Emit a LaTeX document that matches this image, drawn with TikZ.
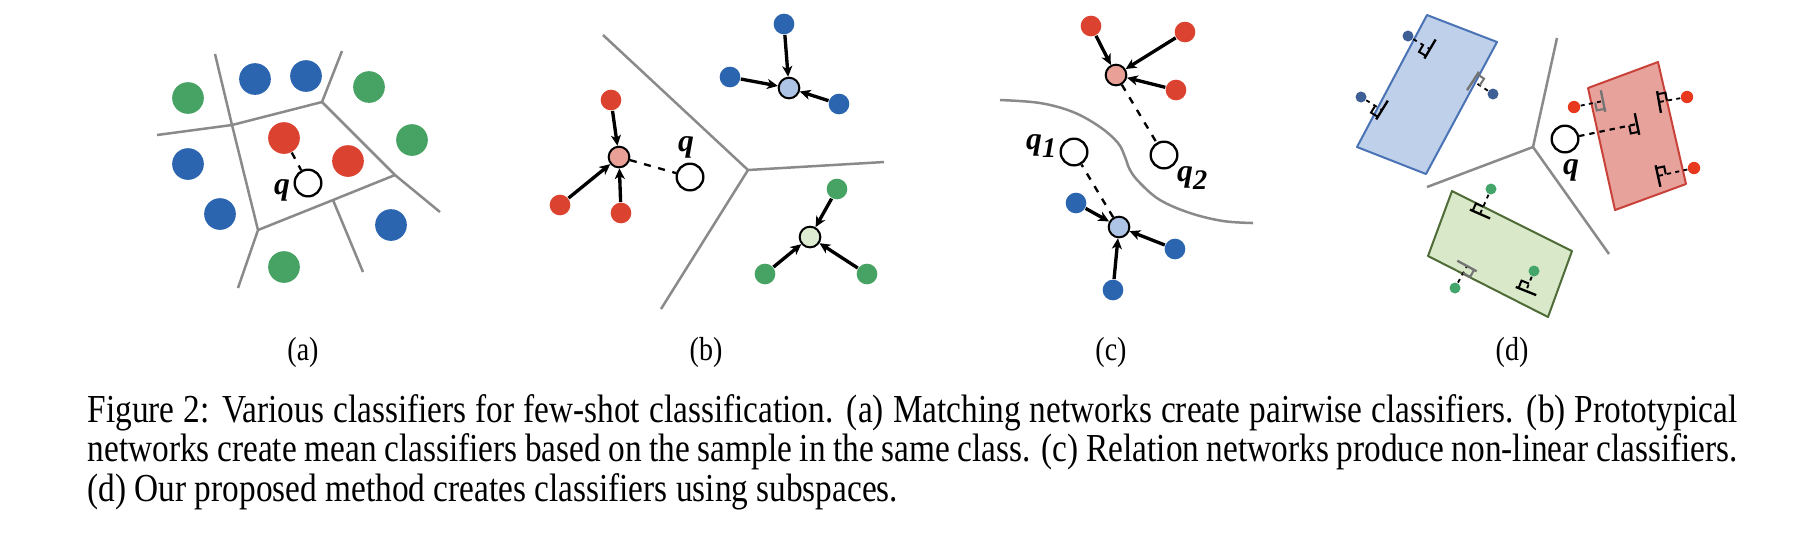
\documentclass[tikz,border=0pt]{standalone}
\usepackage{fontspec}
\setmainfont{Liberation Serif}
\newfontfamily\capfont[FakeStretch=0.84]{Liberation Serif}
\usetikzlibrary{arrows.meta,calc}

\definecolor{cred}{RGB}{220,66,48}
\definecolor{cblue}{RGB}{43,100,175}
\definecolor{cgreen}{RGB}{70,163,100}
\definecolor{mred}{RGB}{233,160,151}
\definecolor{mblue}{RGB}{174,196,230}
\definecolor{mgreen}{RGB}{222,237,210}
\definecolor{cgray}{RGB}{138,138,138}
\definecolor{rbfill}{RGB}{191,208,234}
\definecolor{rbdraw}{RGB}{74,115,181}
\definecolor{rrfill}{RGB}{232,162,156}
\definecolor{rrdraw}{RGB}{201,66,58}
\definecolor{rgfill}{RGB}{216,232,200}
\definecolor{rgdraw}{RGB}{78,107,56}
\definecolor{dblue}{RGB}{62,94,150}
\definecolor{dred}{RGB}{232,56,30}
\definecolor{dgreen}{RGB}{67,165,106}
\definecolor{mkgray}{RGB}{115,115,115}

\newcommand\perpmark[3]{%
  \coordinate (pmA) at ($(#1)!2.4pt!(#2)$);
  \coordinate (pmB) at ($(#1)!2.4pt!90:(#2)$);
  \draw[#3,line width=0.7pt] ($(#1)!3.3pt!90:(#2)$) -- ($(#1)!3.3pt!-90:(#2)$);
  \draw[#3,line width=0.6pt] (pmA) -- ($(pmA)!2.4pt!90:(#2)$) -- (pmB);
}

\begin{document}
\begin{tikzpicture}[x=0.3pt,y=-0.3pt,
  bigdot/.style={circle,inner sep=0pt,minimum size=9.5pt},
  smalldot/.style={circle,inner sep=0pt,minimum size=6.2pt},
  tinydot/.style={circle,inner sep=0pt,minimum size=3.3pt},
  meandot/.style={circle,draw=black,line width=0.6pt,inner sep=0pt,minimum size=6.2pt},
  qdot/.style={circle,draw=black,line width=0.7pt,fill=white,inner sep=0pt,minimum size=8pt},
  qlabel/.style={font=\fontsize{9.5}{11}\selectfont\bfseries\itshape,inner sep=0pt},
  border/.style={cgray,line width=0.75pt,line join=round},
  arr/.style={line width=1pt,-{Stealth[length=3.2pt,width=3pt,inset=0.9pt]}},
  qdash/.style={line width=0.7pt,dash pattern=on 2.1pt off 2.3pt},
  pdash/.style={line width=0.55pt,dash pattern=on 1.2pt off 1.3pt},
  sublabel/.style={font=\capfont\fontsize{10}{12}\selectfont,inner sep=0pt},
  capline/.style={font=\capfont\fontsize{11.9}{14}\selectfont,inner sep=0pt,anchor=base west},
]
\fill[white] (0,0) rectangle (1809,550);
\useasboundingbox (0,0) rectangle (1809,550);

% ---------------- (a) ----------------
\coordinate (aA) at (215,54);
\coordinate (aB) at (232,125);
\coordinate (aC) at (157,135);
\coordinate (aD) at (322,102);
\coordinate (aE) at (342,51);
\coordinate (aF) at (258,230);
\coordinate (aG) at (238,288);
\coordinate (aH) at (395,175);
\coordinate (aI) at (440,212);
\coordinate (aJ) at (333,200);
\coordinate (aK) at (363,272);
\draw[border] (aA) -- (aB) -- (aF) -- (aG);
\draw[border] (aC) -- (aB) -- (aD) -- (aE);
\draw[border] (aD) -- (aH) -- (aI);
\draw[border] (aF) -- (aJ) -- (aH);
\draw[border] (aJ) -- (aK);

\node[bigdot,fill=cgreen] (ag1) at (188,98) {};
\node[bigdot,fill=cblue] (ab1) at (255,79) {};
\node[bigdot,fill=cblue] (ab2) at (306,76) {};
\node[bigdot,fill=cgreen] (ag2) at (369,87) {};
\node[bigdot,fill=cgreen] (ag3) at (412,140) {};
\node[bigdot,fill=cblue] (ab3) at (188,164) {};
\node[bigdot,fill=cred] (ar1) at (284,138) {};
\node[bigdot,fill=cred] (ar2) at (348,161) {};
\node[bigdot,fill=cblue] (ab4) at (220,214) {};
\node[bigdot,fill=cblue] (ab5) at (391,225) {};
\node[bigdot,fill=cgreen] (ag4) at (284,267) {};
\node[qdot] (aq) at (308,183) {};
\node[qlabel] (aql) at (282,190) {q};
\draw[qdash] (ar1) -- (aq);
\node[sublabel] (la) at (303,352) {(a)};

% ---------------- (b) ----------------
\coordinate (bJ) at (748,170);
\coordinate (bT) at (603,35);
\coordinate (bB) at (661,309);
\coordinate (bR) at (884,162);
\draw[border] (bT) -- (bJ) -- (bB);
\draw[border] (bJ) -- (bR);

\node[meandot,fill=mred] (bmr) at (619,157) {};
\node[smalldot,fill=cred] (br1) at (611,100) {};
\node[smalldot,fill=cred] (br2) at (560,205) {};
\node[smalldot,fill=cred] (br3) at (621,213) {};
\draw[arr] (br1) -- (bmr);
\draw[arr] (br2) -- (bmr);
\draw[arr] (br3) -- (bmr);

\node[meandot,fill=mblue] (bmb) at (789,88) {};
\node[smalldot,fill=cblue] (bb1) at (784,24) {};
\node[smalldot,fill=cblue] (bb2) at (730,77) {};
\node[smalldot,fill=cblue] (bb3) at (839,104) {};
\draw[arr] (bb1) -- (bmb);
\draw[arr] (bb2) -- (bmb);
\draw[arr] (bb3) -- (bmb);

\node[meandot,fill=mgreen] (bmg) at (810,237) {};
\node[smalldot,fill=cgreen] (bg1) at (837,189) {};
\node[smalldot,fill=cgreen] (bg2) at (765,274) {};
\node[smalldot,fill=cgreen] (bg3) at (867,274) {};
\draw[arr] (bg1) -- (bmg);
\draw[arr] (bg2) -- (bmg);
\draw[arr] (bg3) -- (bmg);

\node[qdot] (bq) at (690,177) {};
\node[qlabel] (bql) at (686,147) {q};
\draw[qdash] (bmr) -- (bq);
\node[sublabel] (lb) at (706,352) {(b)};

% ---------------- (c) ----------------
\draw[border] plot[smooth,tension=0.6] coordinates {(1000,100) (1040,103) (1073,112) (1100,127) (1118,143) (1125,157) (1130,170) (1140,183) (1160,200) (1190,213) (1223,221) (1253,223)};

\node[meandot,fill=mred] (cmr) at (1116,75) {};
\node[smalldot,fill=cred] (cr1) at (1091,26) {};
\node[smalldot,fill=cred] (cr2) at (1185,32) {};
\node[smalldot,fill=cred] (cr3) at (1176,90) {};
\draw[arr] (cr1) -- (cmr);
\draw[arr] (cr2) -- (cmr);
\draw[arr] (cr3) -- (cmr);

\node[meandot,fill=mblue] (cmb) at (1119,227) {};
\node[smalldot,fill=cblue] (cb1) at (1076,203) {};
\node[smalldot,fill=cblue] (cb2) at (1175,249) {};
\node[smalldot,fill=cblue] (cb3) at (1113,290) {};
\draw[arr] (cb1) -- (cmb);
\draw[arr] (cb2) -- (cmb);
\draw[arr] (cb3) -- (cmb);

\node[qdot] (cq1) at (1074,152) {};
\node[qdot] (cq2) at (1164,155) {};
\node[qlabel] (cq1l) at (1042,146) {q\textsubscript{\fontsize{8.5}{9}\selectfont 1}};
\node[qlabel] (cq2l) at (1193,178) {q\textsubscript{\fontsize{8.5}{9}\selectfont 2}};
\draw[qdash] (cmr) -- (cq2);
\draw[qdash] (cmb) -- (cq1);
\node[sublabel] (lc) at (1111,352) {(c)};

% ---------------- (d) ----------------
\coordinate (dJ) at (1533,147);
\coordinate (dT) at (1557,38);
\coordinate (dL) at (1427,187);
\coordinate (dB) at (1609,254);
\draw[border] (dT) -- (dJ) -- (dL);
\draw[border] (dJ) -- (dB);

\draw[fill=rbfill,draw=rbdraw,line width=0.6pt,line join=round] (1427,15) -- (1497,42) -- (1426,174) -- (1357,147) -- cycle;
\draw[fill=rrfill,draw=rrdraw,line width=0.6pt,line join=round] (1588,88) -- (1658,62) -- (1686,184) -- (1615,210) -- cycle;
\draw[fill=rgfill,draw=rgdraw,line width=0.6pt,line join=round] (1452,191) -- (1572,251) -- (1548,317) -- (1428,256) -- cycle;

% blue subspace
\node[tinydot,fill=dblue] (db1) at (1408,36) {};
\node[tinydot,fill=dblue] (db2) at (1361,97) {};
\node[tinydot,fill=dblue] (db3) at (1493,94) {};
\coordinate (fb1) at (1430,49);
\coordinate (fb2) at (1382,110);
\coordinate (fb3) at (1473,81);
\draw[pdash] (db1) -- (fb1);
\draw[pdash] (db2) -- (fb2);
\draw[pdash] (db3) -- (fb3);
\perpmark{fb1}{db1}{black}
\perpmark{fb2}{db2}{black}
\perpmark{fb3}{db3}{mkgray}

% red subspace
\node[tinydot,fill=dred,minimum size=3.7pt] (dr1) at (1574,107) {};
\node[tinydot,fill=dred,minimum size=3.7pt] (dr2) at (1687,97) {};
\node[tinydot,fill=dred,minimum size=3.7pt] (dr3) at (1694,168) {};
\coordinate (fr1) at (1603,101);
\coordinate (fr2) at (1659,102);
\coordinate (fr3) at (1658,176);
\coordinate (fr4) at (1637,124);
\node[qdot] (dq) at (1565,139) {};
\node[qlabel] (dql) at (1571,170) {q};
\draw[pdash] (dr1) -- (fr1);
\draw[pdash] (dr2) -- (fr2);
\draw[pdash] (dr3) -- (fr3);
\draw[pdash,line width=0.65pt,dash pattern=on 1.6pt off 1.5pt] (dq) -- (fr4);
\perpmark{fr1}{dr1}{mkgray}
\perpmark{fr2}{dr2}{black}
\perpmark{fr3}{dr3}{black}
\perpmark{fr4}{dq}{black}

% green subspace
\node[tinydot,fill=dgreen] (dg1) at (1491,189) {};
\node[tinydot,fill=dgreen] (dg2) at (1534,271) {};
\node[tinydot,fill=dgreen] (dg3) at (1455,288) {};
\coordinate (fg1) at (1480,214);
\coordinate (fg2) at (1526,291);
\coordinate (fg3) at (1467,266);
\draw[pdash] (dg1) -- (fg1);
\draw[pdash] (dg2) -- (fg2);
\draw[pdash] (dg3) -- (fg3);
\perpmark{fg1}{dg1}{black}
\perpmark{fg2}{dg2}{black}
\perpmark{fg3}{dg3}{mkgray}

\node[sublabel] (ld) at (1512,352) {(d)};

% ---------------- caption ----------------
\node[capline] (cap1) at (87,422) {\makebox[495pt][s]{Figure 2: Various classifiers for few-shot classification. (a) Matching networks create pairwise classifiers. (b) Prototypical}};
\node[capline] (cap2) at (87,461.5) {\makebox[495pt][s]{networks create mean classifiers based on the sample in the same class. (c) Relation networks produce non-linear classifiers.}};
\node[capline] (cap3) at (87,501) {(d) Our proposed method creates classifiers using subspaces.};
\end{tikzpicture}
\end{document}
